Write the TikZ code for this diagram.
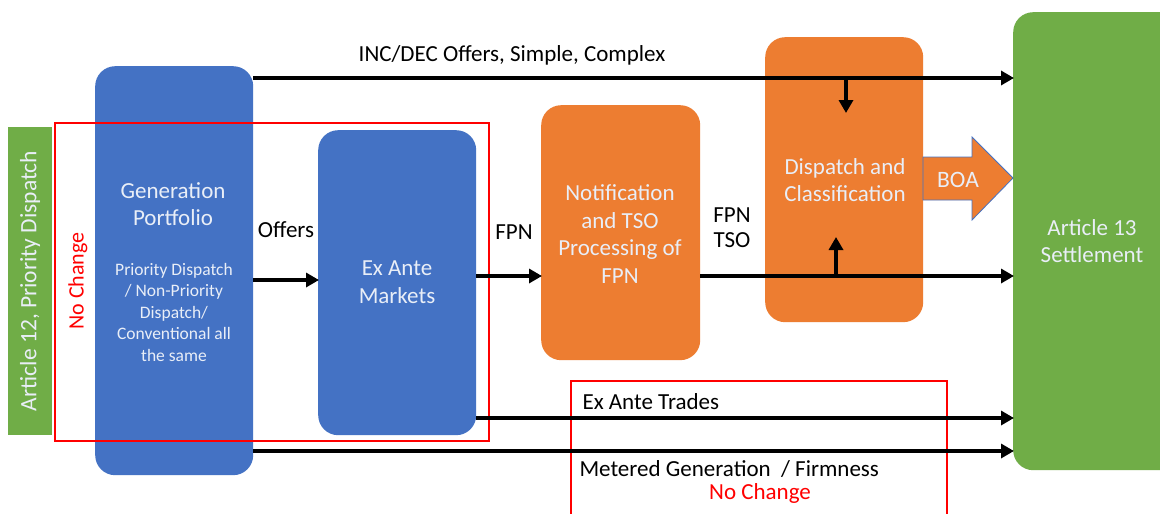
\documentclass[tikz,border=0pt]{standalone}
\usepackage{fontspec}
\setmainfont{Carlito}
\usetikzlibrary{arrows.meta}
\definecolor{cblue}{HTML}{4472C4}
\definecolor{corange}{HTML}{ED7D31}
\definecolor{cgreen}{HTML}{70AD47}
\definecolor{cred}{HTML}{FF0000}
\definecolor{ctext}{HTML}{E9EEF7}
\tikzset{
  box/.style={rounded corners=20pt, inner sep=0pt, anchor=north west},
  bluebox/.style={box, fill=cblue},
  orangebox/.style={box, fill=corange},
  greenbox/.style={box, fill=cgreen},
  redframe/.style={draw=cred, line width=2.2pt},
  flow/.style={line width=3.5pt, -{Triangle[length=13pt,width=14pt]}, shorten >=-1pt},
  inbox/.style={text=ctext, align=center, font=\fontsize{23}{27.5}\selectfont},
  smalltext/.style={text=ctext, align=center, font=\fontsize{17.5}{21.5}\selectfont},
  lbl/.style={text=black, align=center, font=\fontsize{23}{25}\selectfont},
}
\begin{document}
\begin{tikzpicture}[x=1pt,y=-1pt]
\useasboundingbox[fill=white] (0,0) rectangle (1160,514);
% left green bar
\node[anchor=north west, fill=cgreen, minimum width=44pt, minimum height=308pt, inner sep=0pt] (art12) at (8,127) {};
\node[rotate=90, text=ctext, font=\fontsize{23.5}{24}\selectfont] (art12t) at (30,281) {Article 12, Priority Dispatch};
% boxes
\node[bluebox, minimum width=158pt, minimum height=409pt] (gen) at (95,66) {};
\node[bluebox, minimum width=158pt, minimum height=305pt] (exa) at (318,130) {};
\node[orangebox, minimum width=159pt, minimum height=255pt] (notif) at (541,105) {};
\node[orangebox, minimum width=158pt, minimum height=285pt] (disp) at (765,37) {};
\node[greenbox, minimum width=170pt, minimum height=458pt] (set) at (1013,12) {};
% red frames
\node[redframe, anchor=north west, minimum width=434pt, minimum height=318pt, inner sep=0pt] (nc1) at (54,122) {};
\node[redframe, anchor=north west, minimum width=376pt, minimum height=140pt, inner sep=0pt] (nc2) at (570,380) {};
\node[rotate=90, text=cred, font=\fontsize{22}{24}\selectfont] (nc1t) at (78,281) {No Change};
% box texts
\node[inbox] (gent) at (173,204) {Generation\\Portfolio};
\node[smalltext] (gens) at (174,312) {Priority Dispatch\\/ Non-Priority\\Dispatch/\\Conventional all\\the same};
\node[inbox] (exat) at (397,282) {Ex Ante\\Markets};
\node[inbox] (notift) at (620,234) {Notification\\and TSO\\Processing of\\FPN};
\node[inbox] (dispt) at (845,180) {Dispatch and\\Classification};
\node[inbox] (sett) at (1092,241) {Article 13\\Settlement};
% BOA block arrow
\draw[fill=corange, draw=cblue, line width=0.8pt] (923,157) coordinate (boa1) -- (972,157) -- (972,137) -- (1013,178) coordinate (boatip) -- (972,220) -- (972,200) -- (923,200) -- cycle;
\node[text=ctext, font=\fontsize{23.5}{24}\selectfont] (boat) at (958,180) {BOA};
% coordinates on box edges
\coordinate (topS) at (gen.north east |- 0,78);
\coordinate (topE) at (set.north west |- 0,78);
\coordinate (downS) at (846,78);
\coordinate (downE) at (846,112);
\coordinate (offS) at (gen.north east |- 0,280);
\coordinate (offE) at (exa.north west |- 0,280);
\coordinate (fpnS) at (exa.north east |- 0,276);
\coordinate (fpnE) at (notif.north west |- 0,276);
\coordinate (tsoS) at (notif.north east |- 0,276);
\coordinate (tsoE) at (set.north west |- 0,276);
\coordinate (upS) at (836,276);
\coordinate (upE) at (836,238);
\coordinate (trS) at (exa.north east |- 0,418);
\coordinate (trE) at (set.north west |- 0,418);
\coordinate (meS) at (gen.north east |- 0,451);
\coordinate (meE) at (set.north west |- 0,451);
% connectors
\draw[flow] (topS) -- (topE);
\draw[flow] (downS) -- (downE);
\draw[flow] (offS) -- (offE);
\draw[flow] (fpnS) -- (fpnE);
\draw[flow] (tsoS) -- (tsoE);
\draw[flow] (upS) -- (upE);
\draw[flow] (trS) -- (trE);
\draw[flow] (meS) -- (meE);
% labels
\node[lbl] (l1) at (512,55) {INC/DEC Offers, Simple, Complex};
\node[lbl] (l2) at (286,230) {Offers};
\node[lbl] (l3) at (514,232) {FPN};
\node[lbl] (l4) at (732,228) {FPN\\TSO};
\node[lbl, anchor=west] (l5) at (579,402) {Ex Ante Trades};
\node[lbl, anchor=west] (l6) at (576,469) {Metered Generation \ / Firmness};
\node[lbl, text=cred] (l7) at (760,493) {No Change};
\end{tikzpicture}
\end{document}
